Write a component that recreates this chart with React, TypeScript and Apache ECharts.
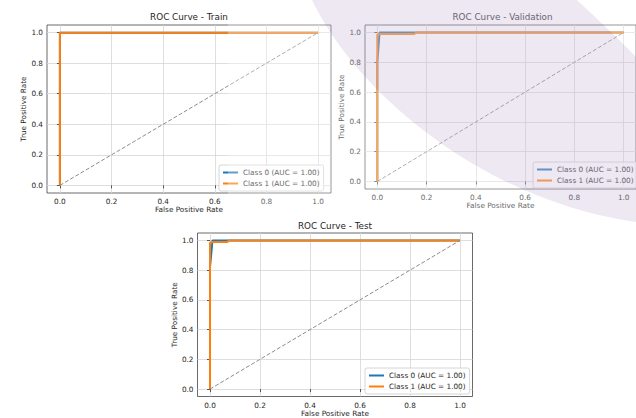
import React, { useEffect, useRef } from 'react';
import * as echarts from 'echarts';

// ---------- data ----------
const CLASS_NAMES = ['Class 0 (AUC = 1.00)', 'Class 1 (AUC = 1.00)'];
const PANEL_TITLES = ['ROC Curve - Train', 'ROC Curve - Validation', 'ROC Curve - Test'];
const TICKS = [0, 0.2, 0.4, 0.6, 0.8, 1.0];
const X_LABEL = 'False Positive Rate';
const Y_LABEL = 'True Positive Rate';

const trainFpr0 = [0, 0, 1];
const trainTpr0 = [0, 1, 1];
const trainFpr1 = [0, 0, 1];
const trainTpr1 = [0, 1, 1];

const valFpr0 = [0, 0, 0.009, 1];
const valTpr0 = [0, 0.8, 1, 1];
const valFpr1 = [0, 0, 0.004, 0.15, 0.16, 1];
const valTpr1 = [0, 0.985, 0.99, 0.99, 1, 1];

const testFpr0 = [0, 0, 0.01, 1];
const testTpr0 = [0, 0.82, 1, 1];
const testFpr1 = [0, 0, 0.01, 0.07, 0.075, 1];
const testTpr1 = [0, 0.985, 0.99, 0.99, 1, 1];

const chanceFpr = [0, 1];
const chanceTpr = [0, 1];

// ---------- styling / layout ----------
const FONT = 'DejaVu Sans';
const TEXT = '#262626';
const COLORS = ['#1f77b4', '#ff7f0e'];

const PANELS = [
  { left: 47, top: 25, width: 284, height: 168, titleX: 189, titleTop: 12, legLeft: 219, legTop: 165,
    curves: [[trainFpr0, trainTpr0], [trainFpr1, trainTpr1]] },
  { left: 365, top: 25, width: 275, height: 164, titleX: 502.5, titleTop: 12, legLeft: 533, legTop: 162,
    curves: [[valFpr0, valTpr0], [valFpr1, valTpr1]] },
  { left: 197.5, top: 233, width: 275, height: 163.5, titleX: 335, titleTop: 221, legLeft: 365, legTop: 368,
    curves: [[testFpr0, testTpr0], [testFpr1, testTpr1]] },
];

const zip = (xs: number[], ys: number[]) => xs.map((x, i) => [x, ys[i]]);

const SWOOSH_D = 'M 312 0 C 356 92, 482 200, 636 222 L 636 57 C 616 36, 596 18, 577 0 Z';
echarts.graphic.registerShape('swoosh', echarts.graphic.extendPath(SWOOSH_D, {}) as any);

function buildOption() {
  const grid: any[] = [];
  const xAxis: any[] = [];
  const yAxis: any[] = [];
  const title: any[] = [];
  const legend: any[] = [];
  const series: any[] = [];

  const axisCommon = (name: string, gap: number) => ({
    type: 'value',
    min: -0.05,
    max: 1.05,
    name,
    nameLocation: 'middle',
    nameGap: gap,
    nameTextStyle: { fontSize: 7.3, color: TEXT, fontFamily: FONT },
    axisLine: { show: false },
    axisTick: { show: true, length: 3, customValues: TICKS, lineStyle: { color: '#333', width: 0.8 } },
    axisLabel: {
      customValues: TICKS,
      formatter: (v: number) => v.toFixed(1),
      fontSize: 7.3,
      color: TEXT,
      fontFamily: FONT,
    },
    splitLine: { show: true, lineStyle: { color: '#d6d6d6', width: 0.8 } },
  });

  PANELS.forEach((p, i) => {
    grid.push({
      left: p.left, top: p.top, width: p.width, height: p.height,
      show: true, borderColor: '#444', borderWidth: 0.8, backgroundColor: '#ffffff',
      containLabel: false,
    });
    const xa: any = axisCommon(X_LABEL, 13);
    xa.gridIndex = i;
    xa.axisLabel.margin = 5;
    xAxis.push(xa);
    const ya: any = axisCommon(Y_LABEL, 20);
    ya.gridIndex = i;
    ya.axisLabel.margin = 4;
    yAxis.push(ya);

    title.push({
      text: PANEL_TITLES[i],
      left: p.titleX,
      top: p.titleTop,
      textAlign: 'center',
      padding: 0,
      textStyle: { fontSize: 8.8, fontWeight: 'normal', color: TEXT, fontFamily: FONT },
    });

    legend.push({
      data: CLASS_NAMES,
      orient: 'vertical',
      left: p.legLeft,
      top: p.legTop,
      icon: 'rect',
      itemWidth: 15,
      itemHeight: 2,
      itemGap: 2,
      padding: [3, 4, 3, 4],
      borderColor: '#cccccc',
      borderWidth: 0.8,
      borderRadius: 2,
      backgroundColor: 'rgba(255,255,255,0.8)',
      selectedMode: false,
      textStyle: { fontSize: 7.3, color: TEXT, fontFamily: FONT, lineHeight: 9 },
    });

    p.curves.forEach(([fpr, tpr], c) => {
      series.push({
        type: 'line',
        name: CLASS_NAMES[c],
        xAxisIndex: i,
        yAxisIndex: i,
        data: zip(fpr, tpr),
        symbol: 'none',
        color: COLORS[c],
        itemStyle: { color: COLORS[c] },
        lineStyle: { color: COLORS[c], width: 2 },
        z: 3 + c,
      });
    });
    series.push({
      type: 'line',
      name: 'chance',
      xAxisIndex: i,
      yAxisIndex: i,
      data: zip(chanceFpr, chanceTpr),
      symbol: 'none',
      lineStyle: { color: '#8c8c8c', width: 1, type: [4, 2] },
      z: 5,
    });
  });

  return {
    animation: false,
    backgroundColor: '#ffffff',
    textStyle: { fontFamily: FONT },
    grid, xAxis, yAxis, title, legend, series,
    graphic: {
      elements: [
        { type: 'rect', silent: true, z: 100, shape: { x: 228, y: 0, width: 408, height: 217 },
          style: { fill: 'rgba(255,255,255,0.3)' } },
        { type: 'swoosh', silent: true, z: 101, x: 0, y: 0, style: { fill: 'rgba(105,63,147,0.12)' } },
      ],
    },
  };
}

export default function App() {
  const ref = useRef<HTMLDivElement>(null);
  useEffect(() => {
    if (!ref.current) return;
    const chart = echarts.init(ref.current, undefined, { renderer: 'svg' });
    chart.setOption(buildOption() as any);
    return () => chart.dispose();
  }, []);
  return (
    <div
      ref={ref}
      style={{ position: 'fixed', left: 0, top: 0, width: 636, height: 418, background: '#fff' }}
    />
  );
}
